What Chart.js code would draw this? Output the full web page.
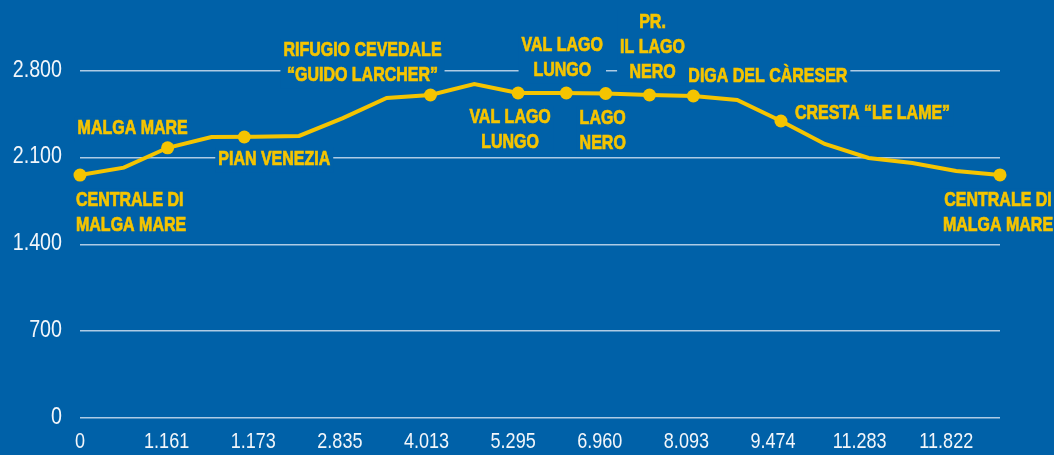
<!DOCTYPE html>
<html><head><meta charset="utf-8">
<script src="https://cdn.jsdelivr.net/npm/chart.js@4.4.1/dist/chart.umd.min.js"></script>
<style>html,body{margin:0;padding:0;background:#0061A8;overflow:hidden}#wrap{width:1054px;height:455px;position:relative}</style>
</head><body><div id="wrap"><canvas id="c" width="1054" height="455"></canvas></div>
<script>
// Elevation profile (m), one value per profile vertex
const elevation = [1960,2020,2180,2267,2270,2276,2420,2582,2606,2695,2622,2622,2618,2606,2598,2566,2396,2211,2098,2058,1993,1961];
// X tick labels (km)
const xTickLabels = ['0','1.161','1.173','2.835','4.013','5.295','6.960','8.093','9.474','11.283','11.822'];
// Y tick values (m)
const yTickValues = [0,700,1400,2100,2800];
// Stops along the route
const stopNames = ['CENTRALE DI\nMALGA MARE','MALGA MARE','PIAN VENEZIA','RIFUGIO CEVEDALE\n\u201CGUIDO LARCHER\u201D','VAL LAGO\nLUNGO','VAL LAGO\nLUNGO','LAGO\nNERO','PR.\nIL LAGO\nNERO','DIGA DEL C\u00C0RESER','CRESTA \u201CLE LAME\u201D','CENTRALE DI\nMALGA MARE'];
const stopPositions = [0,2,3.75,8,10,11.1,12,13,14,16,21];
const stopElevations = [1960,2180,2267,2606,2622,2622,2618,2606,2598,2396,1961];

const BG = '#0061A8';
const YELLOW = '#F5C400';
const TICK = '#F2F6FA';
const FONT = '"Liberation Sans","Arimo",Arial,sans-serif';
const SX = 0.82; // horizontal condensing (narrow face)
const fmt = v => String(v).replace(/\B(?=(\d{3})+(?!\d))/g, '.');

function condText(ctx, text, x, y, align, stroke){
  ctx.save();
  ctx.translate(x, y);
  ctx.scale(SX, 1);
  ctx.textAlign = align;
  if (stroke) { ctx.lineWidth = stroke; ctx.strokeText(text, 0, 0); }
  ctx.fillText(text, 0, 0);
  ctx.restore();
}

// label placement relative to each stop dot
const placements = [
  {dx:-4, dy:26, align:'left'},
  {dx:-90, dy:-19, align:'left'},
  {dx:-26, dy:23, align:'left'},
  {dx:-68, dy:-44, align:'center'},
  {dx:-8, dy:25, align:'center'},
  {dx:-4, dy:-47, align:'center'},
  {dx:-3, dy:25, align:'center'},
  {dx:3, dy:-72, align:'center'},
  {dx:-5, dy:-19, align:'left'},
  {dx:14, dy:-7, align:'left'},
  {dx:-2, dy:26, align:'center'}
];

const bgPlugin = {
  id:'bg',
  beforeDraw(chart){
    const ctx = chart.ctx;
    ctx.save(); ctx.fillStyle = BG; ctx.fillRect(0,0,chart.width,chart.height); ctx.restore();
  }
};

const tickPlugin = {
  id:'tickText',
  afterDraw(chart){
    const ctx = chart.ctx, ys = chart.scales.y, xs = chart.scales.x2;
    ctx.save();
    ctx.fillStyle = TICK;
    ctx.textBaseline = 'middle';
    ctx.font = '24px ' + FONT;
    yTickValues.forEach(v => condText(ctx, fmt(v), ys.right - 18, ys.getPixelForValue(v) - 1, 'right'));
    ctx.font = '22px ' + FONT;
    xTickLabels.forEach((t, i) => condText(ctx, t, xs.getPixelForValue(i), xs.top + 24, 'center'));
    ctx.restore();
  }
};

const labelPlugin = {
  id:'stopLabels',
  beforeDatasetsDraw(chart){
    const ctx = chart.ctx, xs = chart.scales.x, ys = chart.scales.y;
    const lh = 25, pad = 3;
    ctx.save();
    ctx.font = 'bold 19.5px ' + FONT;
    ctx.textBaseline = 'middle';
    stopNames.forEach((name, i) => {
      const p = placements[i];
      const px = xs.getPixelForValue(stopPositions[i]) + p.dx;
      const py = ys.getPixelForValue(stopElevations[i]) + p.dy;
      const lines = name.split('\n');
      const w = Math.max(...lines.map(l => ctx.measureText(l).width)) * SX;
      const left = p.align === 'left' ? px : px - w/2;
      ctx.fillStyle = BG;
      ctx.fillRect(left - pad, py - lh/2, w + pad*2, lines.length*lh);
      ctx.fillStyle = YELLOW;
      ctx.strokeStyle = YELLOW;
      lines.forEach((l, k) => condText(ctx, l, px, py + k*lh, p.align, 0.7));
    });
    ctx.restore();
  }
};

new Chart(document.getElementById('c'), {
  type:'line',
  data:{
    datasets:[
      {
        data: elevation.map((v,i)=>({x:i, y:v})),
        borderColor: YELLOW, borderWidth: 4, pointRadius: 0, tension: 0,
        xAxisID:'x', yAxisID:'y', clip:false, order:2
      },
      {
        data: stopPositions.map((p,i)=>({x:p, y:stopElevations[i]})),
        showLine:false, pointRadius:6.5, pointHoverRadius:6.5,
        pointBackgroundColor: YELLOW, pointBorderWidth:0,
        xAxisID:'x', yAxisID:'y', clip:false, order:1
      }
    ]
  },
  plugins:[bgPlugin, labelPlugin, tickPlugin],
  options:{
    responsive:false, animation:false, devicePixelRatio:1,
    layout:{padding:{left:0,right:54,top:0,bottom:0}},
    plugins:{legend:{display:false}, tooltip:{enabled:false}},
    events:[],
    scales:{
      x:{type:'linear', min:0, max:21, display:false},
      x2:{
        type:'linear', position:'bottom', min:0, max:10.62,
        grid:{display:false, drawTicks:false}, border:{display:false},
        afterBuildTicks: s => { s.ticks = xTickLabels.map((_,i)=>({value:i})); },
        afterFit: s => { s.height = 37; s.paddingLeft = 0; s.paddingRight = 0; },
        ticks:{display:false}
      },
      y:{
        min:0, max:3320,
        afterBuildTicks: s => { s.ticks = yTickValues.map(v=>({value:v})); },
        afterFit: s => { s.width = 80; s.paddingTop = 0; s.paddingBottom = 0; },
        grid:{color:'rgba(205,222,240,0.85)', lineWidth:1.5, drawTicks:false},
        border:{display:false},
        ticks:{display:false}
      }
    }
  }
});
</script></body></html>
